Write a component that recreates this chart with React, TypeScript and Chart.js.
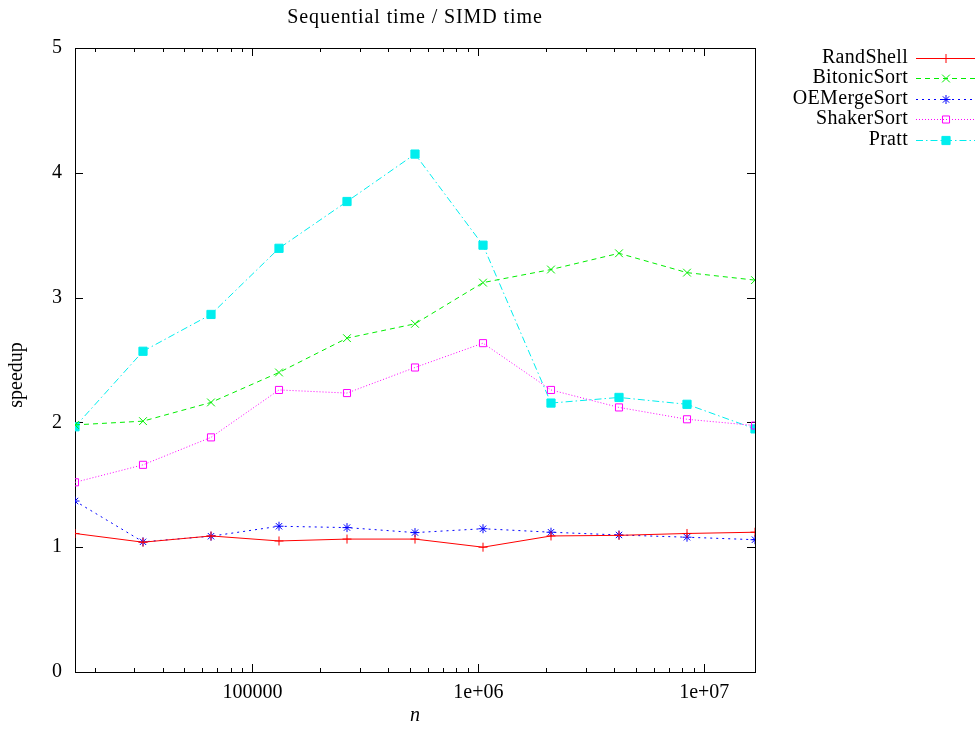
import React, { useEffect, useRef } from 'react';
import { Chart, registerables } from 'chart.js';

Chart.register(...registerables);

const sizes = [16384, 32768, 65536, 131072, 262144, 524288, 1048576, 2097152, 4194304, 8388608, 16777216];
const randShell = [1.11, 1.04, 1.09, 1.05, 1.065, 1.065, 1.0, 1.09, 1.095, 1.11, 1.12];
const bitonicSort = [1.98, 2.01, 2.16, 2.40, 2.675, 2.79, 3.12, 3.225, 3.355, 3.2, 3.14];
const oeMergeSort = [1.37, 1.043, 1.088, 1.168, 1.157, 1.117, 1.148, 1.12, 1.098, 1.08, 1.06];
const shakerSort = [1.52, 1.66, 1.88, 2.26, 2.235, 2.44, 2.635, 2.26, 2.12, 2.025, 1.975];
const pratt = [1.965, 2.57, 2.865, 3.395, 3.77, 4.15, 3.42, 2.155, 2.2, 2.145, 1.948];

const seriesNames = ['RandShell', 'BitonicSort', 'OEMergeSort', 'ShakerSort', 'Pratt'];
const yTickValues = [0, 1, 2, 3, 4, 5];
const xMajorTicks = [100000, 1000000, 10000000];
const xMajorLabels = ['100000', '1e+06', '1e+07'];
const xDecades = [10000, 100000, 1000000, 10000000];
const xMinorMultipliers = [2, 3, 4, 5, 6, 7, 8, 9];
const chartTitle = 'Sequential time / SIMD time';
const xTitle = 'n';
const yTitle = 'speedup';

const FONT = 'Liberation Serif';
const W = 977;
const H = 732;
const AREA = { left: 75, top: 48, right: 755, bottom: 672 };

const styles = [
  { color: '#ff0000', dash: [] as number[], point: 'cross', radius: 4.5, fill: '#ff0000' },
  { color: '#00ee00', dash: [5, 4], point: 'crossRot', radius: 5.5, fill: '#00ee00' },
  { color: '#0000ff', dash: [2, 4], point: 'star', radius: 4.5, fill: '#0000ff' },
  { color: '#ff00ff', dash: [1, 2], point: 'rect', radius: 5, fill: 'rgba(0,0,0,0)' },
  { color: '#00eeee', dash: [7, 3, 1.5, 3], point: 'rect', radius: 5.8, fill: '#00eeee' },
];

function drawMarker(ctx: CanvasRenderingContext2D, kind: string, x: number, y: number, r: number, color: string, fill: string) {
  ctx.save();
  ctx.setLineDash([]);
  ctx.strokeStyle = color;
  ctx.fillStyle = fill;
  ctx.lineWidth = 1;
  ctx.beginPath();
  if (kind === 'cross') {
    ctx.moveTo(x - r, y); ctx.lineTo(x + r, y);
    ctx.moveTo(x, y - r); ctx.lineTo(x, y + r);
    ctx.stroke();
  } else if (kind === 'crossRot') {
    const d = r * Math.SQRT1_2;
    ctx.moveTo(x - d, y - d); ctx.lineTo(x + d, y + d);
    ctx.moveTo(x - d, y + d); ctx.lineTo(x + d, y - d);
    ctx.stroke();
  } else if (kind === 'star') {
    const d = r * Math.SQRT1_2;
    ctx.moveTo(x - r, y); ctx.lineTo(x + r, y);
    ctx.moveTo(x, y - r); ctx.lineTo(x, y + r);
    ctx.moveTo(x - d, y - d); ctx.lineTo(x + d, y + d);
    ctx.moveTo(x - d, y + d); ctx.lineTo(x + d, y - d);
    ctx.stroke();
  } else {
    const s = r * Math.SQRT1_2;
    ctx.rect(x - s, y - s, 2 * s, 2 * s);
    ctx.fill();
    ctx.stroke();
  }
  ctx.restore();
}

const decorPlugin = {
  id: 'gnuplotDecor',
  beforeDatasetsDraw(chart: any) {
    const { ctx, chartArea: a, scales } = chart;
    ctx.save();
    ctx.strokeStyle = '#000';
    ctx.lineWidth = 1;
    ctx.setLineDash([]);
    ctx.strokeRect(Math.round(a.left) + 0.5, Math.round(a.top) + 0.5, Math.round(a.right - a.left), Math.round(a.bottom - a.top));
    ctx.beginPath();
    for (const t of scales.y.ticks) {
      const py = Math.round(scales.y.getPixelForValue(t.value)) + 0.5;
      ctx.moveTo(a.left, py); ctx.lineTo(a.left + 8, py);
      ctx.moveTo(a.right, py); ctx.lineTo(a.right - 8, py);
    }
    for (const t of scales.x.ticks) {
      const px = Math.round(scales.x.getPixelForValue(t.value)) + 0.5;
      const len = t.major ? 8 : 4;
      ctx.moveTo(px, a.bottom); ctx.lineTo(px, a.bottom - len);
      ctx.moveTo(px, a.top); ctx.lineTo(px, a.top + len);
    }
    ctx.stroke();
    ctx.restore();
  },
  afterDraw(chart: any) {
    const { ctx, chartArea: a } = chart;
    ctx.save();
    ctx.fillStyle = '#000';
    ctx.textBaseline = 'middle';
    ctx.textAlign = 'center';
    ctx.font = `20px "${FONT}"`;
    (ctx as any).letterSpacing = '0.9px';
    ctx.fillText(chartTitle, (a.left + a.right) / 2, 18);
    (ctx as any).letterSpacing = '0px';
    ctx.font = `italic 20px "${FONT}"`;
    ctx.fillText(xTitle, (a.left + a.right) / 2, 716);
    ctx.font = `20px "${FONT}"`;
    ctx.save();
    ctx.translate(17, 375);
    ctx.rotate(-Math.PI / 2);
    ctx.fillText(yTitle, 0, 0);
    ctx.restore();

    // legend
    ctx.textAlign = 'right';
    (ctx as any).letterSpacing = '0.3px';
    chart.data.datasets.forEach((ds: any, i: number) => {
      const st = styles[i];
      const y = 57.5 + i * 20.5;
      ctx.fillStyle = '#000';
      ctx.fillText(ds.label, 908, y);
      ctx.save();
      ctx.strokeStyle = st.color;
      ctx.lineWidth = 1;
      ctx.setLineDash(st.dash);
      ctx.beginPath();
      ctx.moveTo(916, Math.round(y) + 0.5);
      ctx.lineTo(975, Math.round(y) + 0.5);
      ctx.stroke();
      ctx.restore();
      drawMarker(ctx, st.point, 946, Math.round(y) + 0.5, st.radius, st.color, st.fill);
    });
    ctx.restore();
  },
};

export default function App() {
  const ref = useRef<HTMLCanvasElement | null>(null);

  useEffect(() => {
    if (!ref.current) return;
    const allSeries = [randShell, bitonicSort, oeMergeSort, shakerSort, pratt];
    const datasets = allSeries.map((vals, i) => ({
      label: seriesNames[i],
      data: sizes.map((x, j) => ({ x, y: vals[j] })),
      borderColor: styles[i].color,
      backgroundColor: styles[i].fill,
      borderWidth: 1,
      borderDash: styles[i].dash,
      pointStyle: styles[i].point,
      pointRadius: styles[i].radius,
      pointBorderWidth: 1,
      pointBorderColor: styles[i].color,
      pointBackgroundColor: styles[i].fill,
      tension: 0,
      fill: false,
    }));

    const xTicks: { value: number; major: boolean }[] = [];
    xDecades.forEach((d) => {
      [1, ...xMinorMultipliers].forEach((m) => {
        const v = d * m;
        if (v >= sizes[0] && v <= sizes[sizes.length - 1]) {
          xTicks.push({ value: v, major: xMajorTicks.includes(v) });
        }
      });
    });

    const chart = new Chart(ref.current, {
      type: 'line',
      data: { datasets },
      plugins: [decorPlugin],
      options: {
        responsive: false,
        animation: false,
        layout: { padding: { left: 0, top: AREA.top, right: W - AREA.right, bottom: 0 } },
        plugins: { legend: { display: false }, tooltip: { enabled: false }, title: { display: false } },
        scales: {
          x: {
            type: 'logarithmic',
            min: sizes[0],
            max: sizes[sizes.length - 1],
            grid: { display: false, drawTicks: false },
            border: { display: false },
            afterBuildTicks: (scale: any) => { scale.ticks = xTicks.map((t) => ({ ...t })); },
            afterFit: (scale: any) => { scale.height = H - AREA.bottom; },
            ticks: {
              autoSkip: false,
              maxRotation: 0,
              padding: 9,
              color: '#000',
              font: { family: FONT, size: 20 },
              callback: (v: any) => {
                const idx = xMajorTicks.indexOf(Number(v));
                return idx >= 0 ? xMajorLabels[idx] : '';
              },
            },
          },
          y: {
            type: 'linear',
            min: yTickValues[0],
            max: yTickValues[yTickValues.length - 1],
            grid: { display: false, drawTicks: false },
            border: { display: false },
            afterBuildTicks: (scale: any) => { scale.ticks = yTickValues.map((v) => ({ value: v })); },
            afterFit: (scale: any) => { scale.width = AREA.left; },
            ticks: {
              padding: 13,
              color: '#000',
              font: { family: FONT, size: 20 },
              callback: (v: any) => String(v),
            },
          },
        },
      } as any,
    });
    return () => chart.destroy();
  }, []);

  return (
    <div style={{ position: 'absolute', left: 0, top: 0, width: W, height: H, background: '#fff' }}>
      <canvas ref={ref} width={W} height={H} style={{ width: W, height: H, display: 'block' }} />
    </div>
  );
}
